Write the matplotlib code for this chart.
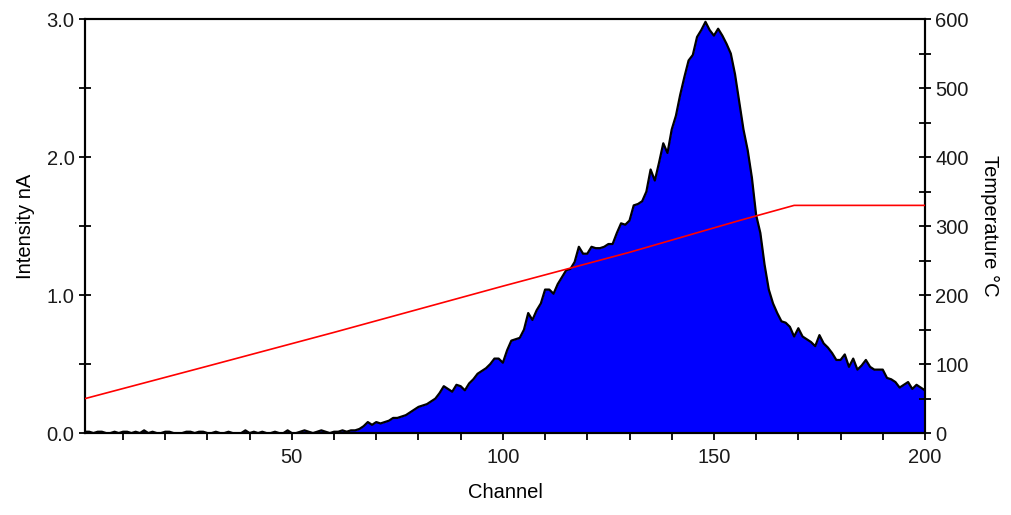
import numpy as np
import matplotlib
matplotlib.use("Agg")
import matplotlib.pyplot as plt
from matplotlib.ticker import MultipleLocator, FormatStrFormatter

# -------------------------------
# Data
# -------------------------------
channels = np.arange(1, 201)

intensity = [
    # 1-10
    0.01, 0.01, 0.00, 0.01, 0.01, 0.00, 0.00, 0.01, 0.00, 0.01,
    # 11-20
    0.01, 0.00, 0.01, 0.00, 0.02, 0.00, 0.01, 0.00, 0.00, 0.01,
    # 21-30
    0.01, 0.00, 0.00, 0.00, 0.01, 0.01, 0.00, 0.01, 0.01, 0.00,
    # 31-40
    0.00, 0.01, 0.00, 0.00, 0.01, 0.00, 0.00, 0.00, 0.02, 0.00,
    # 41-50
    0.01, 0.00, 0.01, 0.00, 0.00, 0.01, 0.00, 0.00, 0.02, 0.00,
    # 51-60
    0.00, 0.01, 0.02, 0.01, 0.00, 0.01, 0.02, 0.01, 0.00, 0.01,
    # 61-70
    0.01, 0.02, 0.01, 0.02, 0.02, 0.03, 0.05, 0.08, 0.06, 0.08,
    # 71-80
    0.07, 0.08, 0.09, 0.11, 0.11, 0.12, 0.13, 0.15, 0.17, 0.19,
    # 81-90
    0.20, 0.21, 0.23, 0.25, 0.29, 0.34, 0.32, 0.30, 0.35, 0.34,
    # 91-100
    0.31, 0.36, 0.39, 0.43, 0.45, 0.47, 0.50, 0.54, 0.54, 0.51,
    # 101-110
    0.60, 0.67, 0.68, 0.69, 0.75, 0.87, 0.82, 0.89, 0.94, 1.04,
    # 111-120
    1.04, 1.01, 1.08, 1.13, 1.18, 1.19, 1.24, 1.35, 1.30, 1.30,
    # 121-130
    1.35, 1.34, 1.34, 1.35, 1.37, 1.37, 1.45, 1.52, 1.51, 1.54,
    # 131-140
    1.65, 1.66, 1.68, 1.75, 1.91, 1.83, 1.96, 2.10, 2.03, 2.20,
    # 141-150
    2.30, 2.45, 2.58, 2.70, 2.74, 2.87, 2.92, 2.98, 2.92, 2.88,
    # 151-160
    2.93, 2.88, 2.82, 2.75, 2.60, 2.40, 2.20, 2.05, 1.85, 1.58,
    # 161-170
    1.45, 1.22, 1.04, 0.94, 0.87, 0.81, 0.80, 0.77, 0.70, 0.76,
    # 171-180
    0.70, 0.68, 0.66, 0.63, 0.71, 0.65, 0.62, 0.58, 0.53, 0.53,
    # 181-190
    0.57, 0.48, 0.54, 0.46, 0.49, 0.53, 0.48, 0.46, 0.46, 0.46,
    # 191-200
    0.40, 0.39, 0.37, 0.33, 0.35, 0.37, 0.32, 0.35, 0.33, 0.31,
]

temp_channels = [1, 30, 60, 100, 130, 156, 169, 200]
temperature = [50, 97, 146, 213, 262, 308, 330, 330]

# -------------------------------
# Plot
# -------------------------------
plt.rcParams['font.family'] = ['Liberation Sans', 'DejaVu Sans']
plt.rcParams['font.size'] = 14.5
plt.rcParams['text.color'] = '#1a1a1a'
plt.rcParams['xtick.labelcolor'] = '#1a1a1a'
plt.rcParams['ytick.labelcolor'] = '#1a1a1a'

fig = plt.figure(figsize=(10.12, 5.15), dpi=100)
ax = fig.add_axes([0.084, 0.159, 0.830, 0.804])

ax.fill_between(channels, intensity, 0, color='#0000FF', linewidth=0, zorder=2)
ax.plot(channels, intensity, color='black', linewidth=1.6, zorder=3)

ax.set_xlim(1, 200)
ax.set_ylim(0, 3.0)
ax.xaxis.set_major_locator(MultipleLocator(50))
ax.xaxis.set_minor_locator(MultipleLocator(10))
ax.yaxis.set_major_locator(MultipleLocator(1.0))
ax.yaxis.set_minor_locator(MultipleLocator(0.5))
ax.yaxis.set_major_formatter(FormatStrFormatter('%.1f'))
ax.tick_params(axis='x', which='both', direction='out', length=5, width=1.3, pad=6)
ax.tick_params(axis='y', which='both', direction='inout', length=9, width=1.3, pad=3)
ax.set_xlabel("Channel", labelpad=11)
ax.set_ylabel("Intensity nA", labelpad=8)
for s in ax.spines.values():
    s.set_linewidth(1.5)
    s.set_zorder(5)

ax2 = ax.twinx()
ax2.plot(temp_channels, temperature, color='#FF0000', linewidth=1.2, zorder=4)
ax2.set_ylim(0, 600)
ax2.yaxis.set_major_locator(MultipleLocator(100))
ax2.yaxis.set_minor_locator(MultipleLocator(50))
ax2.tick_params(axis='y', which='both', direction='inout', length=9, width=1.3, pad=3)
ax2.set_ylabel("Temperature \u00b0C", rotation=270, labelpad=22)
for s in ax2.spines.values():
    s.set_linewidth(1.5)

fig.savefig("out.png", dpi=100)
